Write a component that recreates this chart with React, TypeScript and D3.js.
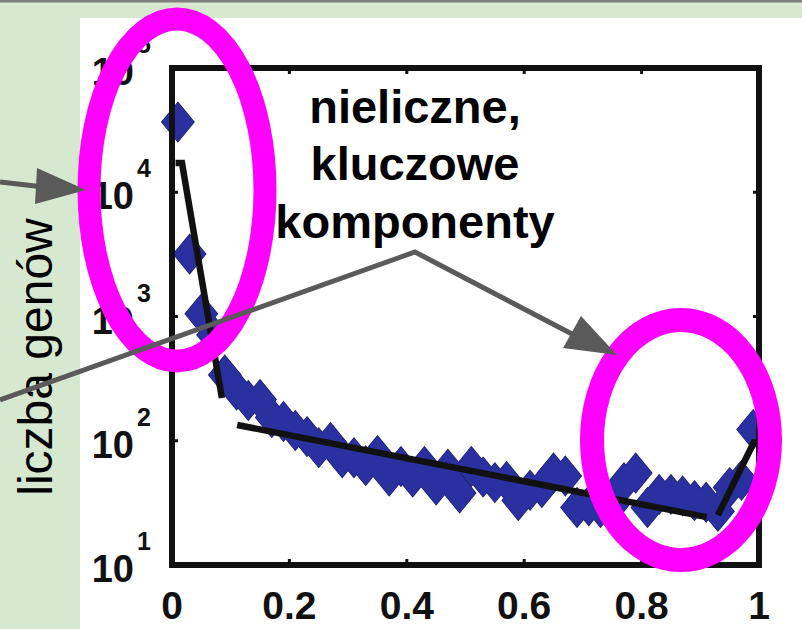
import * as d3 from 'd3'

// udział genu w genomach (środek przedziału) i liczba genów
const geneFraction = [
  0.01, 0.03, 0.05, 0.07, 0.09, 0.11, 0.13, 0.15, 0.17, 0.19,
  0.21, 0.23, 0.25, 0.27, 0.29, 0.31, 0.33, 0.35, 0.37, 0.39,
  0.41, 0.43, 0.45, 0.47, 0.49, 0.51, 0.53, 0.55, 0.57, 0.59,
  0.61, 0.63, 0.65, 0.67, 0.69, 0.71, 0.73, 0.75, 0.77, 0.79,
  0.81, 0.83, 0.85, 0.87, 0.89, 0.91, 0.93, 0.95, 0.97, 0.99
]
const geneCounts = [
  36700, 3180, 1050, 710, 338, 256, 211, 215, 154, 143,
  121, 108, 88, 97, 73, 73, 63, 76, 52, 62,
  51, 62, 44, 59, 38, 62, 51, 46, 47, 33,
  40, 42, 55, 52, 29, 30, 29, 30, 46, 55,
  29, 37, 37, 36, 33, 32, 27, 42, 48, 123
]

// dopasowane odcinki (x, liczba genów)
const fitSegments: [number, number][][] = [
  [[0.006, 17200], [0.017, 17200], [0.085, 221]],
  [[0.111, 134], [0.911, 24.3]],
  [[0.93, 25.2], [0.993, 101]]
]

const xTicks = [0, 0.2, 0.4, 0.6, 0.8, 1]
const xTickLabels = ['0', '0.2', '0.4', '0.6', '0.8', '1']
const yTicks = [10, 100, 1000, 10000, 100000]
const yExponents = ['1', '2', '3', '4', '5']

const FONT = "'Liberation Sans', Arial, Helvetica, sans-serif"
const BLUE = '#2a30a0'
const MAGENTA = '#ff00ff'
const GRAY = '#5a5a5a'

export default function App() {
  const width = 802
  const height = 629

  const x = d3.scaleLinear().domain([0, 1]).range([172, 759])
  const y = d3.scaleLog().domain([10, 100000]).range([565, 68])

  const line = d3.line<[number, number]>()
    .x(d => x(d[0]))
    .y(d => y(d[1]))

  const points = geneFraction.map((f, i) => ({ f, n: geneCounts[i] }))
  const hw = 16
  const hh = 19.5
  const diamond = (cx: number, cy: number) =>
    `M${cx},${cy - hh}L${cx + hw},${cy}L${cx},${cy + hh}L${cx - hw},${cy}Z`

  const [x0, x1] = x.range()
  const [yb, yt] = y.range()

  return (
    <svg width={width} height={height} style={{ position: 'absolute', left: 0, top: 0, background: '#fff' }}>
      {/* tło slajdu */}
      <rect x={0} y={0} width={width} height={height} fill="#ffffff" />
      <rect x={0} y={0} width={width} height={18} fill="#d7e8d0" />
      <rect x={0} y={0} width={80} height={height} fill="#d7e8d0" />
      <rect x={0} y={0} width={width} height={2.5} fill="#7f7f7f" />

      {/* punkty: obrys pod spodem, wypełnienie na wierzchu, żeby się zlewały */}
      {points.map((p, i) => (
        <path key={'o' + i} d={diamond(x(p.f), y(p.n))} fill="none" stroke="#1c2070" strokeWidth={1.5} />
      ))}
      {points.map((p, i) => (
        <path key={i} d={diamond(x(p.f), y(p.n))} fill={BLUE} />
      ))}

      {/* linie dopasowania */}
      {fitSegments.map((s, i) => (
        <path key={i} d={line(s) || ''} fill="none" stroke="#111" strokeWidth={6.5} strokeLinejoin="miter" />
      ))}

      {/* ramka */}
      <rect x={x0} y={yt} width={x1 - x0} height={yb - yt} fill="none" stroke="#111" strokeWidth={6} />
      {xTicks.slice(1, -1).map((t, i) => (
        <g key={'xt' + i} stroke="#111" strokeWidth={3}>
          <line x1={x(t)} x2={x(t)} y1={yb} y2={yb - 6} />
          <line x1={x(t)} x2={x(t)} y1={yt} y2={yt + 6} />
        </g>
      ))}
      {yTicks.slice(1, -1).map((t, i) => (
        <g key={'yt' + i} stroke="#111" strokeWidth={3}>
          <line x1={x0} x2={x0 + 6} y1={y(t)} y2={y(t)} />
          <line x1={x1} x2={x1 - 6} y1={y(t)} y2={y(t)} />
        </g>
      ))}

      {/* etykiety osi X */}
      {xTicks.map((t, i) => (
        <text key={'xl' + i} x={x(t)} y={619} textAnchor="middle" fontFamily={FONT}
          fontWeight="bold" fontSize={39} fill="#111">{xTickLabels[i]}</text>
      ))}

      {/* etykiety osi Y */}
      {yTicks.map((t, i) => (
        <g key={'yl' + i} fontFamily={FONT} fontWeight="bold" fill="#111">
          <text x={134} y={y(t) + 17} textAnchor="end" fontSize={38}>10</text>
          <text x={137} y={y(t) - 15} fontSize={25}>{yExponents[i]}</text>
        </g>
      ))}

      {/* tytuł osi Y */}
      <text transform="translate(52,357) rotate(-90)" textAnchor="middle" fontFamily={FONT}
        fontSize={48} fill="#000">liczba genów</text>

      {/* opis */}
      <g fontFamily={FONT} fontWeight="bold" fontSize={47} fill="#000" textAnchor="middle">
        <text x={415} y={123}>nieliczne,</text>
        <text x={415} y={180}>kluczowe</text>
        <text x={415} y={238}>komponenty</text>
      </g>

      {/* elipsy */}
      <ellipse cx={177} cy={190} rx={88} ry={171} fill="none" stroke={MAGENTA} strokeWidth={23} />
      <ellipse cx={681} cy={440} rx={89} ry={120} fill="none" stroke={MAGENTA} strokeWidth={24} />

      {/* strzałki */}
      <g stroke={GRAY} strokeWidth={5} fill="none">
        <line x1={0} y1={182} x2={44} y2={187} />
        <polyline points="0,400 415,252 572,334" strokeLinejoin="miter" />
      </g>
      <polygon points="86,190 37,168 35,204" fill={GRAY} />
      <polygon points="617,355 563,348 581,316" fill={GRAY} />
    </svg>
  )
}
